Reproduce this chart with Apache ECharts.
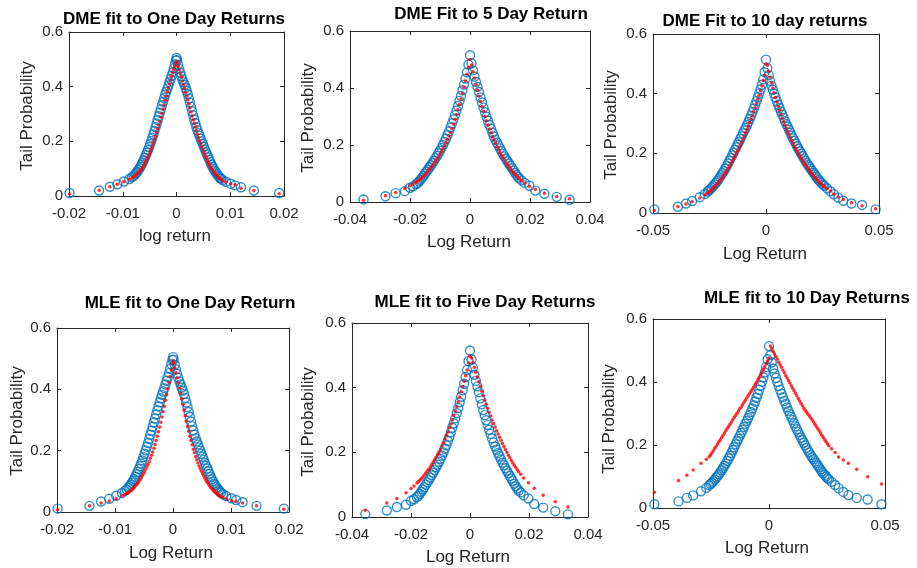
<!DOCTYPE html>
<html>
<head>
<meta charset="utf-8">
<script src="https://cdn.jsdelivr.net/npm/echarts@6/dist/echarts.min.js"></script>
<style>
  html, body { margin: 0; padding: 0; background: #fff; }
  #chart { width: 917px; height: 568px; }
</style>
</head>
<body>
<div id="chart"></div>
<script>
// sorted log returns for each horizon
const ret1 = [-0.0199,-0.0144,-0.0124,-0.0110,-0.0098,-0.0088,
  -0.0083,-0.0080,-0.0077,
  -0.0075,-0.0073,-0.0071,-0.0069,-0.0067,-0.0065,-0.0063,-0.0061,-0.0059,-0.0057,
  -0.0055,-0.0053,-0.0051,-0.0049,-0.0047,-0.0045,-0.0043,-0.0041,-0.0039,-0.0037,
  -0.0035,-0.0033,-0.0031,-0.0029,-0.0027,-0.0025,-0.0023,-0.0021,-0.0019,-0.0017,
  -0.0015,-0.0013,-0.0011,-0.0009,-0.0007,-0.0005,-0.0003,-0.0001,
  0,
  0.0001,0.0003,0.0005,0.0007,0.0009,0.0011,0.0013,0.0015,0.0017,0.0019,
  0.0021,0.0023,0.0025,0.0027,0.0029,0.0031,0.0033,0.0035,0.0037,0.0039,
  0.0041,0.0043,0.0045,0.0047,0.0049,0.0051,0.0053,0.0055,0.0057,0.0059,
  0.0061,0.0063,0.0065,0.0067,0.0069,0.0071,0.0073,0.0075,0.0077,0.0079,
  0.0081,0.0083,
  0.0086,0.0092,0.0101,0.0109,0.0120,0.0144,0.0191];
const ret5 = [-0.0355,-0.0282,-0.0248,-0.0217,-0.0200,-0.0190,
  -0.0180,-0.0175,-0.0170,-0.0165,-0.0160,-0.0155,-0.0150,-0.0145,-0.0140,-0.0135,
  -0.0130,-0.0125,-0.0120,-0.0115,-0.0110,-0.0105,-0.0100,-0.0095,-0.0090,-0.0085,
  -0.0080,-0.0075,-0.0070,-0.0065,-0.0060,-0.0055,-0.0050,-0.0045,-0.0040,-0.0035,
  -0.0030,-0.0025,-0.0020,-0.0015,-0.0010,-0.0005,
  0,
  0.0005,0.0010,0.0015,0.0020,0.0025,0.0030,0.0035,0.0040,0.0045,0.0050,
  0.0055,0.0060,0.0065,0.0070,0.0075,0.0080,0.0085,0.0090,0.0095,0.0100,
  0.0105,0.0110,0.0115,0.0120,0.0125,0.0130,0.0135,0.0140,0.0145,0.0150,
  0.0155,0.0160,0.0165,
  0.0172,0.0182,0.0198,0.0218,0.0248,0.0289,0.0332];
const ret10 = [-0.0494,-0.0390,-0.0354,-0.0327,-0.0293,-0.0270,
  -0.0258,-0.0252,-0.0246,-0.0240,-0.0234,-0.0228,-0.0222,-0.0216,-0.0210,-0.0204,
  -0.0198,-0.0192,-0.0186,-0.0180,-0.0174,-0.0168,-0.0162,-0.0156,-0.0150,-0.0144,
  -0.0138,-0.0132,-0.0126,-0.0120,-0.0114,-0.0108,-0.0102,-0.0096,-0.0090,-0.0084,
  -0.0078,-0.0072,-0.0066,-0.0060,-0.0054,-0.0048,-0.0042,-0.0036,-0.0030,-0.0024,
  -0.0018,-0.0012,-0.0006,
  0,
  0.0006,0.0012,0.0018,0.0024,0.0030,0.0036,0.0042,0.0048,0.0054,0.0060,
  0.0066,0.0072,0.0078,0.0084,0.0090,0.0096,0.0102,0.0108,0.0114,0.0120,
  0.0126,0.0132,0.0138,0.0144,0.0150,0.0156,0.0162,0.0168,0.0174,0.0180,
  0.0186,0.0192,0.0198,0.0204,0.0210,0.0216,0.0222,0.0228,0.0234,0.0240,
  0.0246,0.0252,0.0258,
  0.0270,0.0285,0.0300,0.0320,0.0342,0.0378,0.0425,0.0485];

// empirical tail probability (blue circles), shared by DME and MLE panels
const emp1 = [0.011,0.020,0.034,0.043,0.053,0.062,
  0.069,0.073,0.079,
  0.084,0.089,0.095,0.101,0.107,0.115,0.123,0.131,0.140,0.149,
  0.158,0.168,0.179,0.190,0.201,0.213,0.225,0.238,0.252,0.265,
  0.278,0.292,0.305,0.318,0.332,0.345,0.358,0.371,0.382,0.393,
  0.404,0.416,0.428,0.440,0.453,0.467,0.482,0.496,
  0.505,
  0.497,0.480,0.465,0.451,0.438,0.426,0.416,0.406,0.396,0.385,
  0.372,0.357,0.342,0.326,0.310,0.295,0.280,0.266,0.252,0.240,
  0.230,0.220,0.210,0.200,0.190,0.180,0.170,0.160,0.151,0.142,
  0.133,0.124,0.115,0.107,0.100,0.093,0.087,0.081,0.076,0.071,
  0.066,0.063,
  0.058,0.052,0.045,0.039,0.032,0.020,0.011];
const emp5 = [0.009,0.020,0.031,0.038,0.050,0.055,
  0.062,0.066,0.072,0.078,0.085,0.092,0.100,0.107,0.114,0.122,
  0.129,0.137,0.145,0.154,0.162,0.171,0.180,0.190,0.200,0.211,
  0.222,0.235,0.248,0.262,0.276,0.290,0.305,0.321,0.337,0.355,
  0.372,0.392,0.412,0.433,0.455,0.482,
  0.515,
  0.487,0.462,0.440,0.421,0.404,0.386,0.367,0.349,0.331,0.315,
  0.299,0.285,0.270,0.257,0.243,0.230,0.218,0.208,0.198,0.188,
  0.178,0.168,0.160,0.151,0.143,0.135,0.127,0.119,0.111,0.103,
  0.095,0.088,0.082,
  0.076,0.067,0.057,0.040,0.029,0.018,0.008];
const emp10 = [0.012,0.021,0.032,0.040,0.053,0.064,
  0.072,0.076,0.080,0.085,0.090,0.096,0.101,0.107,0.113,0.120,
  0.127,0.134,0.141,0.149,0.157,0.166,0.175,0.184,0.193,0.202,
  0.211,0.220,0.229,0.238,0.248,0.257,0.267,0.276,0.285,0.295,
  0.305,0.316,0.326,0.338,0.350,0.362,0.375,0.388,0.401,0.415,
  0.430,0.448,0.472,
  0.514,
  0.485,0.462,0.443,0.427,0.413,0.400,0.387,0.375,0.363,0.352,
  0.340,0.330,0.319,0.308,0.298,0.289,0.279,0.269,0.259,0.250,
  0.241,0.232,0.223,0.215,0.207,0.199,0.191,0.183,0.176,0.168,
  0.161,0.155,0.148,0.142,0.135,0.129,0.122,0.116,0.110,0.105,
  0.100,0.095,0.091,
  0.083,0.073,0.063,0.051,0.041,0.032,0.027,0.012];

// fitted tail probability (red dots)
const dmeFit1 = [0.007,0.021,0.034,0.043,0.052,0.060,
  0.066,0.070,0.075,
  0.078,0.082,0.086,0.090,0.094,0.099,0.105,0.112,0.119,0.127,
  0.135,0.144,0.153,0.163,0.173,0.184,0.195,0.207,0.219,0.232,
  0.245,0.259,0.273,0.288,0.303,0.318,0.334,0.350,0.365,0.381,
  0.395,0.410,0.424,0.438,0.452,0.464,0.476,0.487,
  0.492,
  0.486,0.474,0.461,0.448,0.435,0.421,0.407,0.393,0.379,0.365,
  0.351,0.337,0.322,0.307,0.293,0.279,0.266,0.252,0.239,0.226,
  0.214,0.202,0.191,0.180,0.169,0.159,0.149,0.140,0.131,0.123,
  0.115,0.107,0.101,0.095,0.089,0.084,0.079,0.074,0.070,0.066,
  0.063,0.060,
  0.056,0.050,0.044,0.040,0.028,0.020,0.008];
const dmeFit5 = [0.006,0.022,0.033,0.047,0.057,0.063,
  0.069,0.073,0.077,0.081,0.086,0.091,0.096,0.102,0.108,0.114,
  0.121,0.128,0.135,0.143,0.151,0.159,0.168,0.177,0.187,0.197,
  0.208,0.219,0.232,0.245,0.258,0.274,0.290,0.307,0.324,0.342,
  0.361,0.381,0.403,0.425,0.448,0.472,
  0.500,
  0.481,0.457,0.434,0.412,0.392,0.372,0.353,0.335,0.318,0.301,
  0.285,0.270,0.256,0.243,0.230,0.218,0.206,0.194,0.184,0.174,
  0.164,0.155,0.147,0.138,0.130,0.123,0.116,0.109,0.103,0.097,
  0.091,0.086,0.081,
  0.075,0.066,0.055,0.044,0.031,0.019,0.011];
const dmeFit10 = [0.008,0.022,0.030,0.038,0.050,0.060,
  0.067,0.071,0.074,0.078,0.083,0.087,0.092,0.098,0.103,0.109,
  0.115,0.121,0.127,0.134,0.141,0.148,0.156,0.164,0.173,0.181,
  0.190,0.199,0.208,0.218,0.227,0.238,0.248,0.258,0.269,0.280,
  0.291,0.303,0.315,0.327,0.340,0.353,0.367,0.381,0.395,0.410,
  0.426,0.444,0.462,
  0.500,
  0.495,0.475,0.455,0.437,0.419,0.403,0.387,0.372,0.358,0.344,
  0.331,0.318,0.306,0.294,0.283,0.272,0.262,0.252,0.242,0.233,
  0.224,0.215,0.207,0.199,0.191,0.183,0.176,0.169,0.162,0.155,
  0.149,0.143,0.137,0.131,0.126,0.120,0.115,0.110,0.105,0.101,
  0.096,0.092,0.088,
  0.082,0.073,0.064,0.054,0.045,0.034,0.024,0.014];
const mleFit1 = [0.007,0.020,0.029,0.036,0.043,0.052,
  0.057,0.060,0.063,
  0.066,0.069,0.072,0.076,0.080,0.085,0.089,0.094,0.099,0.105,
  0.111,0.118,0.125,0.132,0.140,0.148,0.156,0.165,0.175,0.185,
  0.196,0.208,0.220,0.233,0.247,0.262,0.277,0.293,0.310,0.327,
  0.345,0.364,0.383,0.402,0.422,0.442,0.463,0.483,
  0.493,
  0.486,0.470,0.454,0.438,0.421,0.404,0.387,0.369,0.351,0.333,
  0.314,0.296,0.279,0.263,0.247,0.233,0.219,0.205,0.193,0.181,
  0.170,0.160,0.150,0.141,0.133,0.125,0.117,0.110,0.103,0.097,
  0.091,0.085,0.080,0.076,0.072,0.068,0.064,0.061,0.058,0.055,
  0.052,0.050,
  0.047,0.042,0.037,0.034,0.029,0.020,0.009];
const mleFit5 = [0.021,0.043,0.057,0.075,0.088,0.096,
  0.105,0.109,0.114,0.119,0.124,0.130,0.136,0.142,0.148,0.155,
  0.162,0.170,0.177,0.185,0.193,0.201,0.210,0.220,0.230,0.241,
  0.252,0.263,0.276,0.288,0.301,0.314,0.327,0.341,0.356,0.371,
  0.387,0.403,0.420,0.437,0.455,0.476,
  0.497,
  0.492,0.478,0.463,0.448,0.433,0.418,0.404,0.389,0.375,0.362,
  0.349,0.336,0.324,0.312,0.300,0.289,0.278,0.267,0.257,0.247,
  0.237,0.227,0.218,0.209,0.200,0.191,0.183,0.175,0.167,0.160,
  0.153,0.146,0.140,
  0.132,0.121,0.106,0.089,0.067,0.047,0.031];
const mleFit10 = [0.050,0.087,0.104,0.121,0.142,0.155,
  0.163,0.168,0.175,0.182,0.190,0.196,0.203,0.210,0.217,0.224,
  0.231,0.238,0.245,0.252,0.259,0.266,0.273,0.280,0.287,0.294,
  0.301,0.308,0.315,0.321,0.328,0.335,0.342,0.349,0.356,0.363,
  0.370,0.377,0.384,0.392,0.399,0.407,0.415,0.423,0.431,0.440,
  0.449,0.458,0.467,
  0.476,
  0.514,0.506,0.497,0.489,0.480,0.472,0.463,0.455,0.447,0.438,
  0.430,0.421,0.413,0.405,0.397,0.388,0.380,0.372,0.364,0.356,
  0.348,0.340,0.332,0.325,0.317,0.310,0.304,0.298,0.292,0.286,
  0.280,0.273,0.266,0.259,0.252,0.245,0.238,0.231,0.224,0.217,
  0.210,0.204,0.198,
  0.188,0.176,0.162,0.152,0.142,0.123,0.099,0.076];

// layout of the six panels (plot box in px, text anchors in px)
const panels = [
  { title: 'DME fit to One Day Returns', xName: 'log return', box: [69, 32, 215, 164], xr: [-0.02, 0.02, 0.01],
    x: ret1, emp: emp1, fit: dmeFit1, tPos: [174, 19], xPos: [175, 236], yPos: [27, 116] },
  { title: 'DME Fit to 5 Day Return', xName: 'Log Return', box: [350, 31, 240, 171], xr: [-0.04, 0.04, 0.02],
    x: ret5, emp: emp5, fit: dmeFit5, tPos: [491, 14], xPos: [469, 242], yPos: [308, 118] },
  { title: 'DME Fit to 10 day returns', xName: 'Log Return', box: [653, 34, 226, 179], xr: [-0.05, 0.05, 0.05],
    x: ret10, emp: emp10, fit: dmeFit10, tPos: [765, 21], xPos: [765, 254], yPos: [611, 125] },
  { title: 'MLE fit to One Day Return', xName: 'Log Return', box: [57, 328, 232, 184], xr: [-0.02, 0.02, 0.01],
    x: ret1, emp: emp1, fit: mleFit1, tPos: [190, 303], xPos: [171, 553], yPos: [17, 421] },
  { title: 'MLE fit to Five Day Returns', xName: 'Log Return', box: [352, 323, 236, 194], xr: [-0.04, 0.04, 0.02],
    x: ret5, emp: emp5, fit: mleFit5, tPos: [485, 302], xPos: [468, 557], yPos: [308, 422] },
  { title: 'MLE fit to 10 Day Returns', xName: 'Log Return', box: [653, 319, 232, 189], xr: [-0.05, 0.05, 0.05],
    x: ret10, emp: emp10, fit: mleFit10, tPos: [807, 298], xPos: [767, 548], yPos: [609, 419] }
];

const FONT = '"Liberation Sans", Arial, Helvetica, sans-serif';
const AX = '#262626';

const grid = [], xAxis = [], yAxis = [], series = [], graphic = [];

panels.forEach((p, i) => {
  if (p.x.length !== p.emp.length || p.x.length !== p.fit.length) console.warn('length mismatch', i);
  const [l, t, w, h] = p.box;
  grid.push({ left: l, top: t, width: w, height: h, containLabel: false });
  const base = {
    gridIndex: i,
    axisLine: { show: true, onZero: false, lineStyle: { color: AX, width: 1 } },
    axisTick: { show: true, inside: true, length: 4, lineStyle: { color: AX } },
    splitLine: { show: false }
  };
  const xb = { ...base, type: 'value', min: p.xr[0], max: p.xr[1], interval: p.xr[2] };
  xAxis.push({ ...xb, position: 'bottom',
    axisLabel: { color: AX, fontSize: 15, fontFamily: FONT, margin: 10 } });
  xAxis.push({ ...xb, position: 'top', axisLabel: { show: false } });
  const yb = { ...base, type: 'value', min: 0, max: 0.6, interval: 0.2 };
  yAxis.push({ ...yb, position: 'left',
    axisLabel: { color: AX, fontSize: 15, fontFamily: FONT, margin: 6 } });
  yAxis.push({ ...yb, position: 'right', axisLabel: { show: false } });

  // empirical: open blue circles
  series.push({
    type: 'scatter', xAxisIndex: 2 * i, yAxisIndex: 2 * i, clip: false,
    symbol: 'circle', symbolSize: 9,
    itemStyle: { color: 'rgba(0,0,0,0)', borderColor: '#0072BD', borderWidth: 1.4 },
    data: p.x.map((v, k) => [v, p.emp[k]]), z: 2
  });
  // fit: small red dots
  series.push({
    type: 'scatter', xAxisIndex: 2 * i, yAxisIndex: 2 * i, clip: false,
    symbol: 'circle', symbolSize: 3.5,
    itemStyle: { color: '#FF0000' },
    data: p.x.map((v, k) => [v, p.fit[k]]), z: 3
  });

  graphic.push({ type: 'text', x: p.tPos[0], y: p.tPos[1],
    style: { text: p.title, fill: '#000', font: 'bold 17px ' + FONT, align: 'center', verticalAlign: 'middle' } });
  graphic.push({ type: 'text', x: p.xPos[0], y: p.xPos[1],
    style: { text: p.xName, fill: AX, font: '17px ' + FONT, align: 'center', verticalAlign: 'middle' } });
  graphic.push({ type: 'text', x: p.yPos[0], y: p.yPos[1], rotation: Math.PI / 2,
    style: { text: 'Tail Probability', fill: AX, font: '17px ' + FONT, align: 'center', verticalAlign: 'middle' } });
});

const chart = echarts.init(document.getElementById('chart'));
chart.setOption({
  animation: false,
  backgroundColor: '#fff',
  grid, xAxis, yAxis, series, graphic
});
</script>
</body>
</html>
